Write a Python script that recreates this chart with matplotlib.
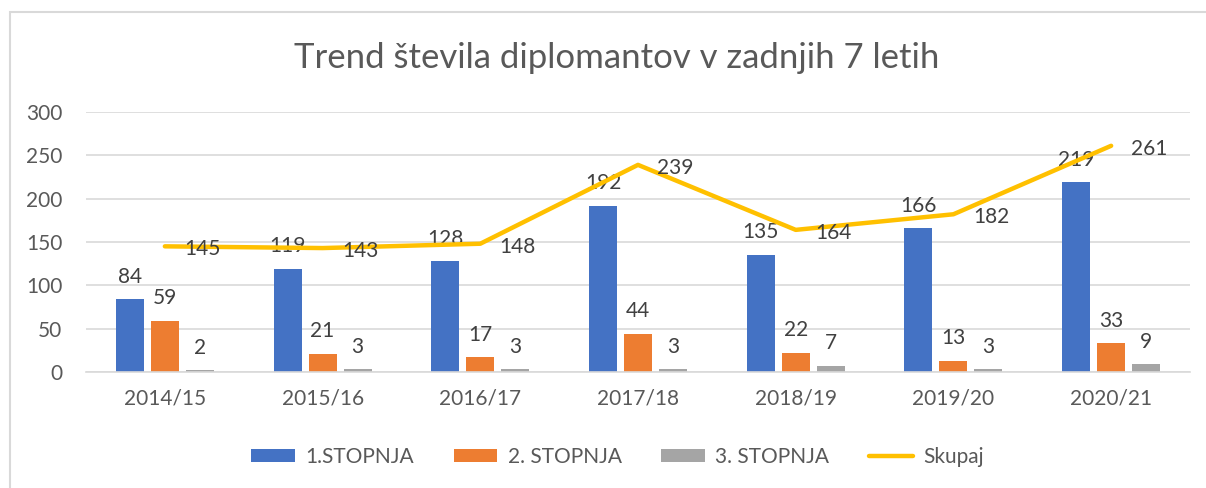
import matplotlib
matplotlib.use("Agg")
import matplotlib.pyplot as plt
import numpy as np
from matplotlib.patches import Rectangle

years = ["2014/15", "2015/16", "2016/17", "2017/18", "2018/19", "2019/20", "2020/21"]
stopnja1 = [84, 119, 128, 192, 135, 166, 219]
stopnja2 = [59, 21, 17, 44, 22, 13, 33]
stopnja3 = [2, 3, 3, 3, 7, 3, 9]
skupaj = [145, 143, 148, 239, 164, 182, 261]
yticks = [0, 50, 100, 150, 200, 250, 300]

plt.rcParams['font.family'] = ['Lato', 'DejaVu Sans']
txt = '#595959'
lbl = '#404040'

fig = plt.figure(figsize=(12.06, 4.88), dpi=100)
fig.patches.append(Rectangle((10/1206, -0.1), 1.2, 1 - 12/488 + 0.1, transform=fig.transFigure,
                             fill=False, edgecolor='#d9d9d9', linewidth=1.5))
ax = fig.add_axes([86/1206, 1 - 372/488, (1190-86)/1206, 260/488])

x = np.arange(len(years))
w = 0.178
sp = 0.222
cols = ['#4472C4', '#ED7D31', '#A5A5A5']
names = ['1.STOPNJA', '2. STOPNJA', '3. STOPNJA']
handles = []
for i, (vals, c, n) in enumerate(zip([stopnja1, stopnja2, stopnja3], cols, names)):
    xs = x + (i - 1) * sp
    b = ax.bar(xs, vals, w, color=c, label=n, zorder=2)
    handles.append(b)
    for xi, v in zip(xs, vals):
        ax.annotate(str(v), (xi, v), xytext=(0, 9), textcoords='offset points',
                    ha='center', va='bottom', fontsize=15, color=lbl)

ln, = ax.plot(x, skupaj, color='#FFC000', linewidth=3.2, label='Skupaj', zorder=3,
              solid_capstyle='round')
handles.append(ln)
for xi, v in zip(x, skupaj):
    ax.annotate(str(v), (xi, v), xytext=(14, -2), textcoords='offset points',
                ha='left', va='center', fontsize=15, color=lbl)

ax.set_xlim(-0.5, len(years) - 0.5)
ax.set_ylim(0, 300)
ax.set_yticks(yticks)
ax.set_xticks(x)
ax.set_xticklabels(years)
ax.yaxis.grid(True, color='#d9d9d9', linewidth=1.2, zorder=0)
ax.set_axisbelow(True)
for s in ['top', 'right', 'left']:
    ax.spines[s].set_visible(False)
ax.spines['bottom'].set_color('#d9d9d9')
ax.spines['bottom'].set_linewidth(1.2)
ax.tick_params(length=0, labelsize=15, colors=txt, pad=12)
ax.tick_params(axis='y', pad=17)

fig.text(0.511, 1 - 58/488, 'Trend števila diplomantov v zadnjih 7 letih', ha='center', va='center',
         fontsize=25, color=txt)

leg = fig.legend(handles=handles, labels=names + ['Skupaj'], loc='center',
                 bbox_to_anchor=(0.512, 1 - 457/488), ncol=4, frameon=False,
                 fontsize=15, labelcolor=txt, handlelength=2.1, handleheight=0.6,
                 columnspacing=1.9, handletextpad=0.5)

fig.savefig('out.png', dpi=100)
